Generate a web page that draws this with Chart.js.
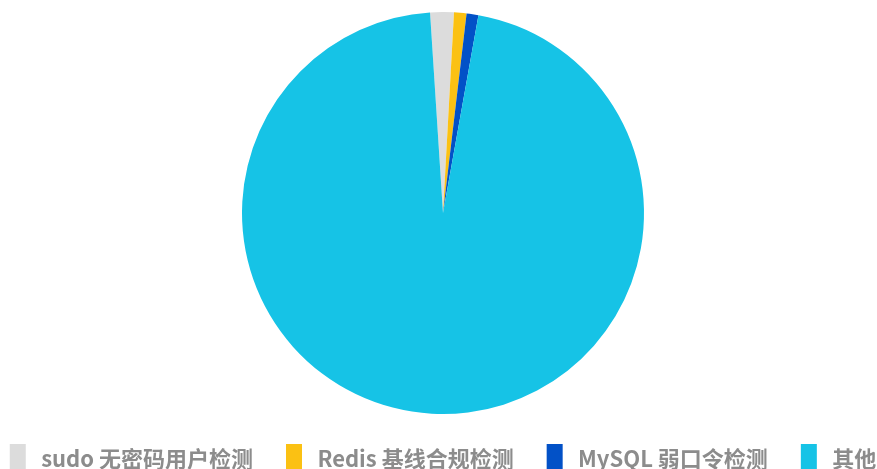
<!DOCTYPE html>
<html>
<head>
<meta charset="utf-8">
<script src="https://cdn.jsdelivr.net/npm/chart.js@4/dist/chart.umd.min.js"></script>
<style>
  html, body { margin: 0; padding: 0; background: #fff; overflow: hidden; }
  #wrap { width: 877px; height: 469px; position: relative; }
</style>
</head>
<body>
<div id="wrap"><canvas id="pieChart"></canvas></div>
<script>
// 各检测项占比 (%)
const labels = ['sudo 无密码用户检测', 'Redis 基线合规检测', 'MySQL 弱口令检测', '其他'];
const values = [1.9, 1.0, 0.95, 96.15];
const colors = ['#dcdcdc', '#fbc113', '#0251c7', '#16c3e6'];

// 图例: 单行不换行, 高度与位置微调
const legendTweak = {
    id: 'legendTweak',
    beforeInit(chart) {
        const fit = chart.legend.fit;
        chart.legend.fit = function() {
            const mw = this.maxWidth;
            this.maxWidth = 5000;
            fit.call(this);
            this.maxWidth = mw;
            this.width = mw;
            this.height = 55;
        };
    },
    afterLayout(chart) {
        const lg = chart.legend;
        lg.top -= 3;
        // 绘制时也不要换行, 同时保持居中
        lg.right += 200;
        lg.lineWidths[0] += 200;
    }
};

const ctx = document.getElementById('pieChart').getContext('2d');
const pieChart = new Chart(ctx, {
    type: 'pie',
    data: {
        labels: labels,
        datasets: [{
            data: values,
            backgroundColor: colors,
            borderWidth: 0
        }]
    },
    options: {
        responsive: true,
        maintainAspectRatio: false,
        animation: false,
        rotation: -3.7,
        layout: {
            padding: { top: 12, left: 9 }
        },
        plugins: {
            legend: {
                position: 'bottom',
                labels: {
                    boxWidth: 16,
                    boxHeight: 30,
                    padding: 33,
                    color: '#8c8c8c',
                    font: {
                        family: '"Noto Sans CJK SC", "Noto Sans", sans-serif',
                        size: 22,
                        weight: 'bold'
                    },
                    generateLabels(chart) {
                        const items = Chart.overrides.pie.plugins.legend.labels.generateLabels(chart);
                        items.forEach(item => { item.text = '\u2009' + item.text; });
                        return items;
                    }
                }
            },
            tooltip: { enabled: false }
        }
    },
    plugins: [legendTweak]
});
</script>
</body>
</html>
